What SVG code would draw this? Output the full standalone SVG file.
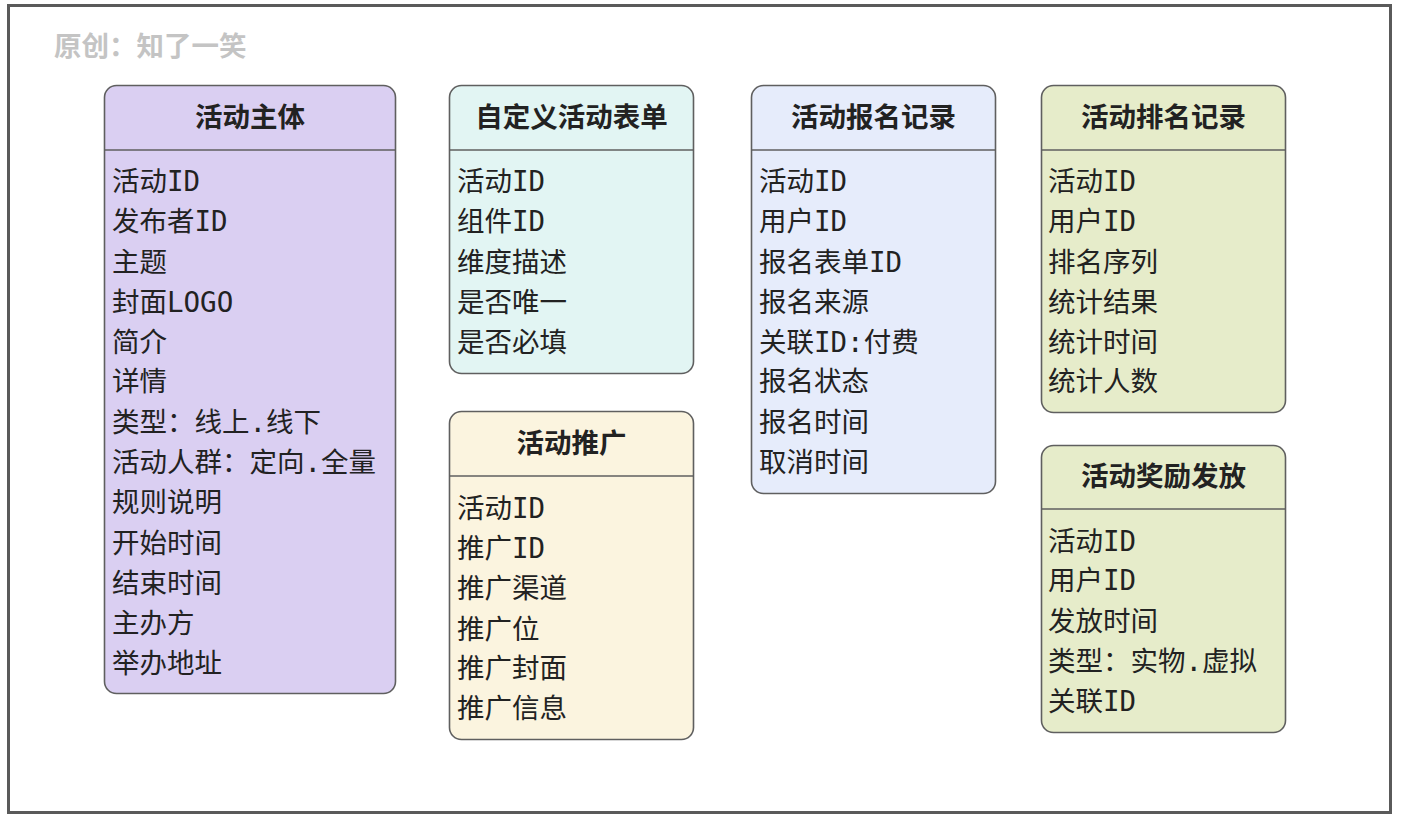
<svg xmlns="http://www.w3.org/2000/svg" width="1404" height="820" viewBox="0 0 1404 820">
<style>
.card{stroke:#5f5f5f;stroke-width:1.6}
.div{stroke:#5f5f5f;stroke-width:1.6}
.t{font-family:"Noto Sans CJK SC","DejaVu Sans",sans-serif;font-weight:bold;font-size:27.5px;fill:#222;text-anchor:middle}
.r{font-family:"DejaVu Sans Mono","Noto Sans CJK SC",monospace;font-size:27.5px;fill:#222}
.wm{font-family:"Noto Sans CJK SC",sans-serif;font-weight:bold;font-size:27.5px;fill:#c4c4c4}
</style>
<rect x="0" y="0" width="1404" height="820" fill="#ffffff"/>
<rect x="8.5" y="5.5" width="1382" height="807" fill="#ffffff" stroke="#5a5a5a" stroke-width="3"/>
<text class="wm" x="54" y="56">原创：知了一笑</text>

<g id="node-main">
<rect class="card" x="104.5" y="85.5" width="291" height="608" rx="12" fill="#dacff2"/>
<line class="div" x1="104.5" y1="150" x2="395.5" y2="150"/>
<text class="t" x="250" y="127">活动主体</text>
<text class="r" x="112" y="191">活动ID</text>
<text class="r" x="112" y="231">发布者ID</text>
<text class="r" x="112" y="272">主题</text>
<text class="r" x="112" y="312">封面LOGO</text>
<text class="r" x="112" y="352">简介</text>
<text class="r" x="112" y="391">详情</text>
<text class="r" x="112" y="432">类型：线上.线下</text>
<text class="r" x="112" y="472">活动人群：定向.全量</text>
<text class="r" x="112" y="512">规则说明</text>
<text class="r" x="112" y="553">开始时间</text>
<text class="r" x="112" y="593">结束时间</text>
<text class="r" x="112" y="633">主办方</text>
<text class="r" x="112" y="673">举办地址</text>
</g>

<g id="node-form">
<rect class="card" x="449.5" y="85.5" width="244" height="288" rx="12" fill="#e2f5f3"/>
<line class="div" x1="449.5" y1="150" x2="693.5" y2="150"/>
<text class="t" x="571.5" y="127">自定义活动表单</text>
<text class="r" x="457" y="191">活动ID</text>
<text class="r" x="457" y="231">组件ID</text>
<text class="r" x="457" y="272">维度描述</text>
<text class="r" x="457" y="312">是否唯一</text>
<text class="r" x="457" y="352">是否必填</text>
</g>

<g id="node-promo">
<rect class="card" x="449.5" y="411.5" width="244" height="328" rx="12" fill="#fbf4df"/>
<line class="div" x1="449.5" y1="476" x2="693.5" y2="476"/>
<text class="t" x="571.5" y="453">活动推广</text>
<text class="r" x="457" y="518">活动ID</text>
<text class="r" x="457" y="558">推广ID</text>
<text class="r" x="457" y="598">推广渠道</text>
<text class="r" x="457" y="639">推广位</text>
<text class="r" x="457" y="678">推广封面</text>
<text class="r" x="457" y="718">推广信息</text>
</g>

<g id="node-signup">
<rect class="card" x="751.5" y="85.5" width="244" height="408" rx="12" fill="#e6ecfb"/>
<line class="div" x1="751.5" y1="150" x2="995.5" y2="150"/>
<text class="t" x="873.5" y="127">活动报名记录</text>
<text class="r" x="759" y="191">活动ID</text>
<text class="r" x="759" y="231">用户ID</text>
<text class="r" x="759" y="272">报名表单ID</text>
<text class="r" x="759" y="312">报名来源</text>
<text class="r" x="759" y="352">关联ID:付费</text>
<text class="r" x="759" y="391">报名状态</text>
<text class="r" x="759" y="432">报名时间</text>
<text class="r" x="759" y="472">取消时间</text>
</g>

<g id="node-rank">
<rect class="card" x="1041.5" y="85.5" width="244" height="327" rx="12" fill="#e6ecca"/>
<line class="div" x1="1041.5" y1="150" x2="1285.5" y2="150"/>
<text class="t" x="1163.5" y="127">活动排名记录</text>
<text class="r" x="1048" y="191">活动ID</text>
<text class="r" x="1048" y="231">用户ID</text>
<text class="r" x="1048" y="272">排名序列</text>
<text class="r" x="1048" y="312">统计结果</text>
<text class="r" x="1048" y="352">统计时间</text>
<text class="r" x="1048" y="391">统计人数</text>
</g>

<g id="node-reward">
<rect class="card" x="1041.5" y="445.5" width="244" height="287" rx="12" fill="#e6ecca"/>
<line class="div" x1="1041.5" y1="509" x2="1285.5" y2="509"/>
<text class="t" x="1163.5" y="486">活动奖励发放</text>
<text class="r" x="1048" y="551">活动ID</text>
<text class="r" x="1048" y="590">用户ID</text>
<text class="r" x="1048" y="631">发放时间</text>
<text class="r" x="1048" y="671">类型：实物.虚拟</text>
<text class="r" x="1048" y="711">关联ID</text>
</g>

<g id="connectors"></g>
</svg>
